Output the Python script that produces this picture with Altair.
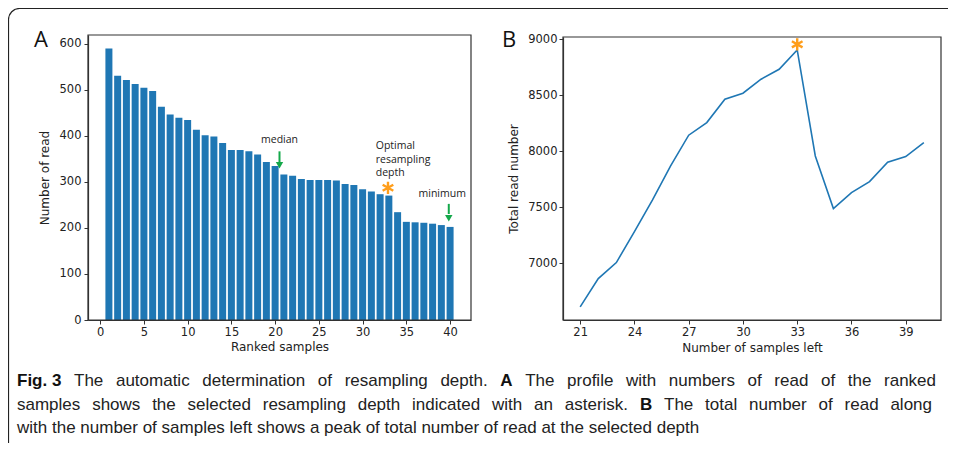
import altair as alt
import pandas as pd

# ---------------- data ----------------
ranks = list(range(1, 41))
reads = [589, 530, 521, 512, 504, 497, 463, 446, 439, 434,
         413, 401, 398, 384, 369, 369, 366, 359, 343, 334,
         316, 313, 306, 304, 304, 304, 303, 295, 293, 284,
         279, 273, 270, 234, 213, 212, 211, 209, 206, 202]

samples_left = list(range(21, 41))
total_reads = [6610, 6863, 7006, 7283, 7565, 7869, 8143, 8256, 8464, 8518,
               8643, 8732, 8905, 7958, 7488, 7631, 7729, 7902, 7952, 8077]

x_ticks_a = [0, 5, 10, 15, 20, 25, 30, 35, 40]
y_ticks_a = [0, 100, 200, 300, 400, 500, 600]
x_ticks_b = [21, 24, 27, 30, 33, 36, 39]
y_ticks_b = [7000, 7500, 8000, 8500, 9000]

# caption: (text, bold) tokens per line
caption_1 = [("Fig. 3", True), ("The automatic determination of resampling depth.", False),
             ("A", True), ("The profile with numbers of read of the ranked", False)]
caption_2 = [("samples shows the selected resampling depth indicated with an asterisk.", False),
             ("B", True), ("The total number of read along", False)]
caption_3 = [("with the number of samples left shows a peak of total number of read at the selected depth", False)]

# ---------------- layout (view pixels) ----------------
W, H = 853, 285
AX0, AX1 = 0, 383
BX0, BX1 = 475, 853
OX = -88   # page x -> view x
OY = -35   # page y -> view y
BLUE = "#1f77b4"
GREEN = "#14a84a"
ORANGE = "#ff9e1b"
AX_COL = "#333333"
TXT = "#222222"
LAB_FONT = "DejaVu Sans"
ANN_FONT = "Open Sans"
CAP_FONT = "Liberation Sans"
CS = 17

df_a = pd.DataFrame({"rank": ranks, "reads": reads})
df_b = pd.DataFrame({"left": samples_left, "total": total_reads})

xa = alt.Scale(domain=[-1.39, 42.39], range=[AX0, AX1], nice=False, zero=False)
ya = alt.Scale(domain=[0, 618.5], range=[H, 0], nice=False, zero=False)
xb = alt.Scale(domain=[20.05, 40.95], range=[BX0, BX1], nice=False, zero=False)
yb = alt.Scale(domain=[6493, 9020], range=[H, 2], nice=False, zero=False)

common_axis = dict(grid=False, domainColor=AX_COL, tickColor=AX_COL, domainWidth=1.2,
                   tickWidth=1, tickSize=4, labelFont=LAB_FONT, labelFontSize=11.5,
                   labelColor=TXT, titleFont=LAB_FONT, titleFontSize=12,
                   titleColor=TXT, titleFontWeight="normal", labelFlush=False,
                   labelOverlap=False, format="d")

ax_xa = alt.Axis(values=x_ticks_a, title="Ranked samples", orient="bottom",
                 labelPadding=2, titlePadding=4, **common_axis)
ax_ya = alt.Axis(values=y_ticks_a, title="Number of read", orient="left",
                 labelPadding=3, titlePadding=8, **common_axis)
ax_xb = alt.Axis(values=x_ticks_b, title="Number of samples left", orient="bottom",
                 labelPadding=2, titlePadding=5, **common_axis)
ax_yb = alt.Axis(values=y_ticks_b, title="Total read number", orient="left",
                 offset=-(BX0 - AX0), labelPadding=2, titlePadding=7, **common_axis)

# ---------------- panel A ----------------
bars = alt.Chart(df_a).transform_calculate(
    x0="datum.rank - 0.4", x1="datum.rank + 0.4"
).mark_bar(color=BLUE).encode(
    x=alt.X("x0:Q", scale=xa, axis=ax_xa),
    x2="x1:Q",
    y=alt.Y("reads:Q", scale=ya, axis=ax_ya),
    y2=alt.datum(0),
)

ann_text = pd.DataFrame({
    "x": [20.5, 31.5, 31.5, 31.5, 39.1],
    "y": [390, 378, 348, 319, 273],
    "t": ["median", "Optimal", "resampling", "depth", "minimum"],
    "a": ["center", "left", "left", "left", "center"],
})
txt_c = alt.Chart(ann_text[ann_text.a == "center"]).mark_text(
    font=ANN_FONT, fontSize=10.5, color=TXT, align="center", baseline="middle"
).encode(x=alt.X("x:Q", scale=xa, axis=ax_xa), y=alt.Y("y:Q", scale=ya, axis=ax_ya), text="t:N")
txt_l = alt.Chart(ann_text[ann_text.a == "left"]).mark_text(
    font=ANN_FONT, fontSize=10.5, color=TXT, align="left", baseline="middle"
).encode(x=alt.X("x:Q", scale=xa, axis=ax_xa), y=alt.Y("y:Q", scale=ya, axis=ax_ya), text="t:N")

arrows = pd.DataFrame({"x": [20.5, 39.85], "y0": [366, 252], "y1": [340, 230], "yh": [336, 221]})
shafts = alt.Chart(arrows).mark_rule(color=GREEN, strokeWidth=2).encode(
    x=alt.X("x:Q", scale=xa, axis=ax_xa), y=alt.Y("y0:Q", scale=ya, axis=ax_ya), y2="y1:Q")
heads = alt.Chart(arrows).mark_point(shape="triangle-down", filled=True, color=GREEN,
                                     size=55, opacity=1).encode(
    x=alt.X("x:Q", scale=xa, axis=ax_xa), y=alt.Y("yh:Q", scale=ya, axis=ax_ya))

ASTER = "M0,-1L0,1M-0.87,-0.5L0.87,0.5M-0.87,0.5L0.87,-0.5"
star_a = alt.Chart(pd.DataFrame({"x": [32.9], "y": [287]})).mark_point(
    shape=ASTER, filled=False, color=ORANGE, strokeWidth=2.4, size=150, opacity=1
).encode(x=alt.X("x:Q", scale=xa, axis=ax_xa), y=alt.Y("y:Q", scale=ya, axis=ax_ya))

panel_a = alt.layer(bars, txt_c, txt_l, shafts, heads, star_a)

# ---------------- panel B ----------------
line = alt.Chart(df_b).mark_line(color=BLUE, strokeWidth=1.6).encode(
    x=alt.X("left:Q", scale=xb, axis=ax_xb),
    y=alt.Y("total:Q", scale=yb, axis=ax_yb),
)
star_b = alt.Chart(pd.DataFrame({"x": [33], "y": [8955]})).mark_point(
    shape=ASTER, filled=False, color=ORANGE, strokeWidth=2.4, size=150, opacity=1
).encode(x=alt.X("x:Q", scale=xb, axis=ax_xb), y=alt.Y("y:Q", scale=yb, axis=ax_yb))
panel_b = alt.layer(line, star_b)

# ---------------- decorations ----------------
def box(x0, x1, y0, y1):
    return alt.Chart().mark_rect(fillOpacity=0, stroke=AX_COL, strokeWidth=1.2).encode(
        x=alt.value(x0), x2=alt.value(x1), y=alt.value(y0), y2=alt.value(y1))

frame = alt.Chart().mark_rect(fillOpacity=0, stroke="#222", strokeWidth=1.2,
                              cornerRadius=11).encode(
    x=alt.value(-79.5), x2=alt.value(900), y=alt.value(-26.5), y2=alt.value(480))

def label(txt, x, y, size=22):
    return alt.Chart().mark_text(font=ANN_FONT, fontSize=size, color="#111",
                                 align="center", baseline="middle").encode(
        x=alt.value(x), y=alt.value(y), text=alt.value(txt))

letters = [label("A", -47, 5), label("B", 421, 5)]

# ---- caption, justified like the journal layout (Arial / Liberation Sans metrics) ----
REG = dict(zip("abcdefghijklmnopqrstuvwxyz",
               [556, 556, 500, 556, 556, 278, 556, 556, 222, 222, 500, 222, 833,
                556, 556, 556, 556, 333, 500, 278, 556, 500, 722, 500, 500, 500]))
REG.update({" ": 278, ".": 278, "A": 667, "B": 667, "T": 611, "F": 611, "3": 556})
BOLD = dict(REG)
BOLD.update({"A": 722, "B": 722, "F": 611, "i": 278, "g": 611, "3": 556})


def em_width(s, bold):
    table = BOLD if bold else REG
    return sum(table.get(c, 556) for c in s) / 1000.0


def words(tokens):
    out = []
    for text, bold in tokens:
        if bold:
            out.append((text, bold))
        else:
            out.extend((w, bold) for w in text.split(" "))
    return out


def layout(tokens, x0, x1, y, justify):
    ws = words(tokens)
    widths = [em_width(w, b) * CS for w, b in ws]
    gap = (x1 - x0 - sum(widths)) / (len(ws) - 1) if justify else 0.278 * CS
    rows, x = [], x0
    for (w, b), wd in zip(ws, widths):
        rows.append({"t": w, "bold": b, "px": x + OX, "py": y + OY})
        x += wd + gap
    return rows


cap_rows = (layout(caption_1, 17, 936, 381, True)
            + layout(caption_2, 17, 932, 405, True)
            + layout(caption_3, 17, 0, 428, False))
cap_df = pd.DataFrame(cap_rows)


def cap_layer(df, weight, color):
    return alt.Chart(df).mark_text(font=CAP_FONT, fontSize=CS, fontWeight=weight, color=color,
                                   align="left", baseline="middle").encode(
        x=alt.X("px:Q", scale=None), y=alt.Y("py:Q", scale=None), text="t:N")


caption = [cap_layer(cap_df[~cap_df.bold], "normal", TXT),
           cap_layer(cap_df[cap_df.bold], "bold", "#111")]

chart = alt.layer(
    frame, panel_a, panel_b, box(AX0, AX1, 0, H), box(BX0, BX1, 2, H), *letters, *caption
).resolve_scale(x="independent", y="independent").properties(
    width=W, height=H,
    autosize=alt.AutoSizeParams(type="none"),
    padding={"left": 80, "top": 27, "right": 7, "bottom": 123},
    background="white",
).configure_view(strokeWidth=0)

chart.save("out.html", embed_options={"renderer": "svg", "actions": False})
